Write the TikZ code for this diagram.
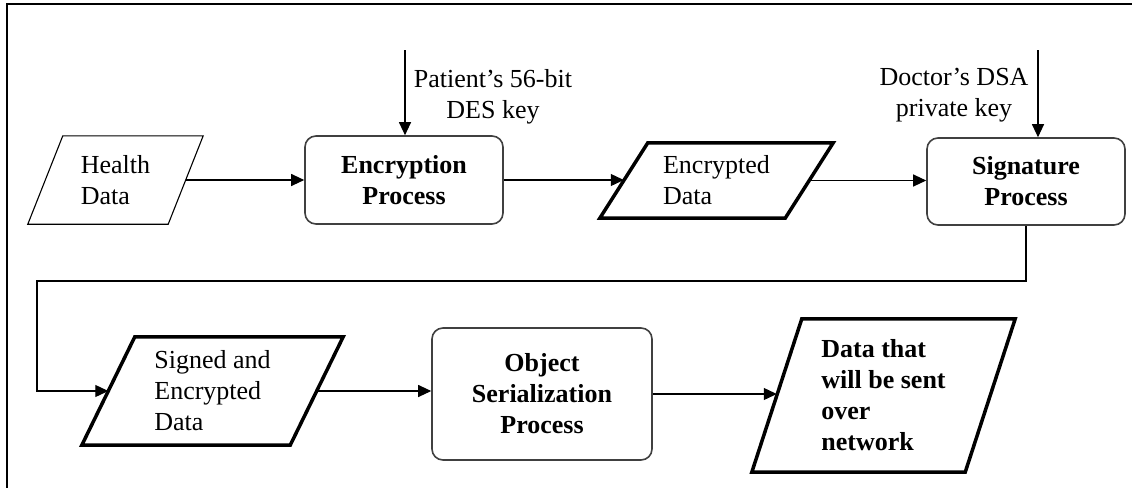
\documentclass[tikz,border=0pt]{standalone}
\usepackage{fontspec}
\setmainfont{Liberation Serif}
\usetikzlibrary{arrows.meta,calc}
\begin{document}
\begin{tikzpicture}[x=1pt,y=-1pt,
  every node/.style={font=\fontsize{26}{31}\selectfont, inner sep=0pt, align=center},
  procbox/.style={draw=black!75, line width=1.6pt, rounded corners=11pt, font=\fontsize{26}{31}\selectfont\bfseries},
  arr/.style={line width=1.1pt, -{Triangle[length=13pt,width=12pt]}},
  parabox/.style args={#1/#2}{minimum width=#1, minimum height=#2, draw=none, align=left}
]
\useasboundingbox (0,0) rectangle (1132,488);
\draw[line width=2pt] (1132,4) -- (7,4) -- (7,488);

% Health Data (thin parallelogram)
\node[parabox=175pt/88pt] (hd) at (115.5,180) {Health\\Data};
\draw[line width=1.1pt] ([xshift=35pt]hd.north west) -- (hd.north east) -- ([xshift=-35pt]hd.south east) -- (hd.south west) -- cycle;

% Encryption Process
\node[procbox, minimum width=198pt, minimum height=88pt] (enc) at (404,180) {Encryption\\Process};

% Encrypted Data (thick parallelogram)
\node[parabox=233pt/75pt] (ed) at (716.5,180.5) {Encrypted\\Data};
\draw[line width=3.5pt, line join=miter] ([xshift=48pt]ed.north west) -- (ed.north east) -- ([xshift=-48pt]ed.south east) -- (ed.south west) -- cycle;

% Signature Process
\node[procbox, minimum width=198pt, minimum height=87pt] (sig) at (1026,181.5) {Signature\\Process};

% Signed and Encrypted Data
\node[parabox=261pt/108pt] (sed) at (212.5,391) {Signed and\\Encrypted\\Data};
\draw[line width=3.5pt, line join=miter] ([xshift=53pt]sed.north west) -- (sed.north east) -- ([xshift=-53pt]sed.south east) -- (sed.south west) -- cycle;

% Object Serialization Process
\node[procbox, minimum width=220pt, minimum height=132pt] (obj) at (542,394) {Object\\Serialization\\Process};

% Data that will be sent over network
\node[parabox=263pt/153pt, font=\fontsize{26}{31}\selectfont\bfseries] (dat) at (883.5,395.5) {Data that\\will be sent\\over\\network};
\draw[line width=3.5pt, line join=miter] ([xshift=50pt]dat.north west) -- (dat.north east) -- ([xshift=-50pt]dat.south east) -- (dat.south west) -- cycle;

% key labels
\node (k1) at (493,97) {Patient's 56-bit\\DES key};
\node (k2) at (954,95) {Doctor's DSA\\private key};
\coordinate (k1s) at (405,50);
\coordinate (k2s) at (1038,50);
\coordinate (c1) at (37,281);

% connectors
\draw[arr] (k1s) -- (k1s |- enc.north);
\draw[arr] (k2s) -- (k2s |- sig.north);
\draw[arr] ([xshift=-17.5pt]hd.east) -- (enc.west);
\draw[arr] (enc.east) -- ([xshift=24pt]ed.west |- enc.east);
\draw[arr] ([xshift=-24pt]ed.east) -- (sig.west |- ed.east);
\draw[arr] (sig.south) |- (c1) |- ([xshift=26.5pt]sed.west);
\draw[arr] ([xshift=-26.5pt]sed.east) -- (obj.west |- sed.east);
\draw[arr] (obj.east) -- ([xshift=25pt]dat.west |- obj.east);
\end{tikzpicture}
\end{document}
